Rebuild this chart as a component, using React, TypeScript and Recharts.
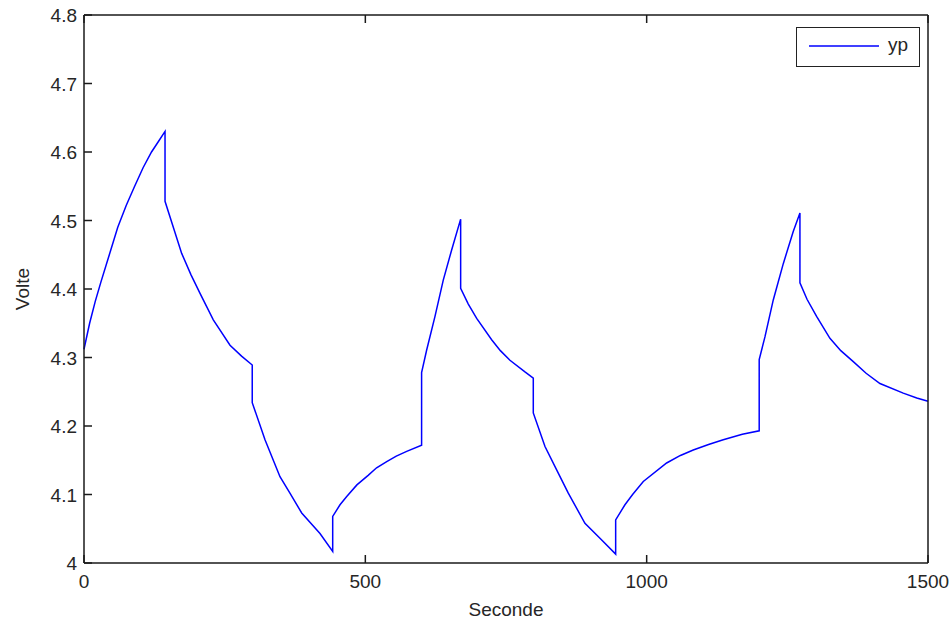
import React from 'react';
import { LineChart, Line, XAxis, YAxis, Legend } from 'recharts';

// Time (s) and voltage samples; repeated times are the vertical jumps
const seconds = [
    0, 10, 20, 30, 45, 60, 75, 90, 105, 120, 132, 144, 144, 160, 173.6, 190, 206, 229.8, 259.5, 280, 299, 299,
    321.7, 348.3, 366, 386.9, 419.4, 442, 442, 455, 466.9, 485, 505, 520, 538, 555, 573.5, 600, 600,
    609, 623.8, 638.5, 653.4, 669.4, 669.4, 683, 697.9, 724.5, 740, 757, 783.7, 798.5, 798.5,
    819.3, 840, 860.7, 890.3, 917, 944.9, 944.9, 961.4, 975, 994, 1035.5, 1060, 1082.8, 1110, 1136.1, 1170, 1200, 1200,
    1210.2, 1225, 1242.8, 1260.5, 1272.4, 1272.4, 1285, 1302, 1325.7, 1345, 1367.2, 1390, 1414.6, 1456, 1480, 1500,
];
const yp = [
    4.312, 4.35, 4.382, 4.41, 4.45, 4.49, 4.522, 4.55, 4.577, 4.6, 4.615, 4.63, 4.528, 4.487, 4.452, 4.421, 4.394, 4.355, 4.318, 4.302, 4.289, 4.234,
    4.18, 4.126, 4.102, 4.073, 4.043, 4.017, 4.068, 4.085, 4.097, 4.114, 4.128, 4.139, 4.148, 4.156, 4.163, 4.172, 4.278,
    4.311, 4.36, 4.413, 4.457, 4.502, 4.401, 4.378, 4.357, 4.326, 4.31, 4.296, 4.279, 4.27, 4.219,
    4.17, 4.136, 4.102, 4.058, 4.036, 4.013, 4.063, 4.085, 4.1, 4.119, 4.146, 4.157, 4.165, 4.173, 4.18, 4.188, 4.193, 4.297,
    4.33, 4.384, 4.437, 4.484, 4.511, 4.409, 4.385, 4.36, 4.328, 4.31, 4.294, 4.277, 4.262, 4.248, 4.241, 4.236,
];
const xTicks = [0, 500, 1000, 1500];
const yTicks = [4, 4.1, 4.2, 4.3, 4.4, 4.5, 4.6, 4.7, 4.8];

const chartData = seconds.map((t, i) => ({ t, yp: yp[i] }));

const FONT = '"Liberation Sans", Arial, sans-serif';
const TICK_LEN = 8;
const TEXT = '#262626';
const AXIS = '#1a1a1a';

const fmt = (v: number) => String(+Number(v).toFixed(1));

// MATLAB style: ticks point into the plot box
const BottomTick = (props: any) => {
    const { x, y, payload } = props;
    return (
        <g>
            <line x1={x} y1={y} x2={x} y2={y - TICK_LEN} stroke={AXIS} strokeWidth={1.5} />
            <text x={x} y={y + 25} textAnchor="middle" fill={TEXT} fontSize={19} fontFamily={FONT}>
                {payload.value}
            </text>
        </g>
    );
};

const TopTick = (props: any) => {
    const { x, y } = props;
    return <line x1={x} y1={y} x2={x} y2={y + TICK_LEN} stroke={AXIS} strokeWidth={1.5} />;
};

const LeftTick = (props: any) => {
    const { x, y, payload } = props;
    return (
        <g>
            <line x1={x} y1={y} x2={x + TICK_LEN} y2={y} stroke={AXIS} strokeWidth={1.5} />
            <text x={x - 7} y={y + 7} textAnchor="end" fill={TEXT} fontSize={19} fontFamily={FONT}>
                {fmt(payload.value)}
            </text>
        </g>
    );
};

const RightTick = (props: any) => {
    const { x, y } = props;
    return <line x1={x} y1={y} x2={x - TICK_LEN} y2={y} stroke={AXIS} strokeWidth={1.5} />;
};

const XLabel = (props: any) => {
    const { viewBox } = props;
    return (
        <text x={viewBox.x + viewBox.width / 2} y={616} textAnchor="middle" fill={TEXT} fontSize={19} fontFamily={FONT}>
            Seconde
        </text>
    );
};

const YLabel = (props: any) => {
    const { viewBox } = props;
    const cy = viewBox.y + viewBox.height / 2;
    return (
        <text x={29} y={cy} transform={`rotate(-90 29 ${cy})`} textAnchor="middle" fill={TEXT} fontSize={19} fontFamily={FONT}>
            Volte
        </text>
    );
};

const LegendBox = () => (
    <div
        style={{
            width: 124,
            height: 40,
            boxSizing: 'border-box',
            border: '1.5px solid #222',
            background: '#fff',
            position: 'relative',
            fontFamily: FONT,
            fontSize: 19,
            color: TEXT,
        }}
    >
        <svg width={124} height={40} style={{ position: 'absolute', left: -1.5, top: -1.5 }}>
            <line x1={13} y1={19} x2={83} y2={19} stroke="#0000ff" strokeWidth={1.5} />
        </svg>
        <span style={{ position: 'absolute', left: 91, top: 5, lineHeight: '24px' }}>yp</span>
    </div>
);

const App: React.FC = () => {
    return (
        <div style={{ position: 'absolute', left: 0, top: 0, width: 952, height: 623, background: '#fff' }}>
            <LineChart width={952} height={623} data={chartData} margin={{ top: 14, right: 23, bottom: 0, left: 0 }}>
                <XAxis
                    dataKey="t"
                    type="number"
                    domain={[0, 1500]}
                    ticks={xTicks}
                    interval={0}
                    height={60}
                    tickSize={0}
                    tickMargin={0}
                    tick={<BottomTick />}
                    axisLine={{ stroke: AXIS, strokeWidth: 1.5 }}
                    tickLine={false}
                    label={<XLabel />}
                />
                {/* top and right edges of the box, with inward ticks and no labels */}
                <XAxis
                    xAxisId="top"
                    orientation="top"
                    dataKey="t"
                    type="number"
                    domain={[0, 1500]}
                    ticks={xTicks}
                    interval={0}
                    height={1}
                    tickSize={0}
                    tickMargin={0}
                    tick={<TopTick />}
                    axisLine={{ stroke: AXIS, strokeWidth: 1.5 }}
                    tickLine={false}
                />
                <YAxis
                    type="number"
                    domain={[4, 4.8]}
                    ticks={yTicks}
                    interval={0}
                    width={84}
                    tickSize={0}
                    tickMargin={0}
                    tick={<LeftTick />}
                    axisLine={{ stroke: AXIS, strokeWidth: 1.5 }}
                    tickLine={false}
                    label={<YLabel />}
                />
                <YAxis
                    yAxisId="right"
                    orientation="right"
                    type="number"
                    domain={[4, 4.8]}
                    ticks={yTicks}
                    interval={0}
                    width={1}
                    tickSize={0}
                    tickMargin={0}
                    tick={<RightTick />}
                    axisLine={{ stroke: AXIS, strokeWidth: 1.5 }}
                    tickLine={false}
                />
                <Legend
                    layout="horizontal"
                    verticalAlign="middle"
                    align="center"
                    content={<LegendBox />}
                    wrapperStyle={{ top: 27, left: 796, width: 124, height: 40 }}
                />
                <Line
                    type="linear"
                    dataKey="yp"
                    name="yp"
                    stroke="#0000ff"
                    strokeWidth={1.5}
                    dot={false}
                    isAnimationActive={false}
                />
            </LineChart>
        </div>
    );
};

export default App;
